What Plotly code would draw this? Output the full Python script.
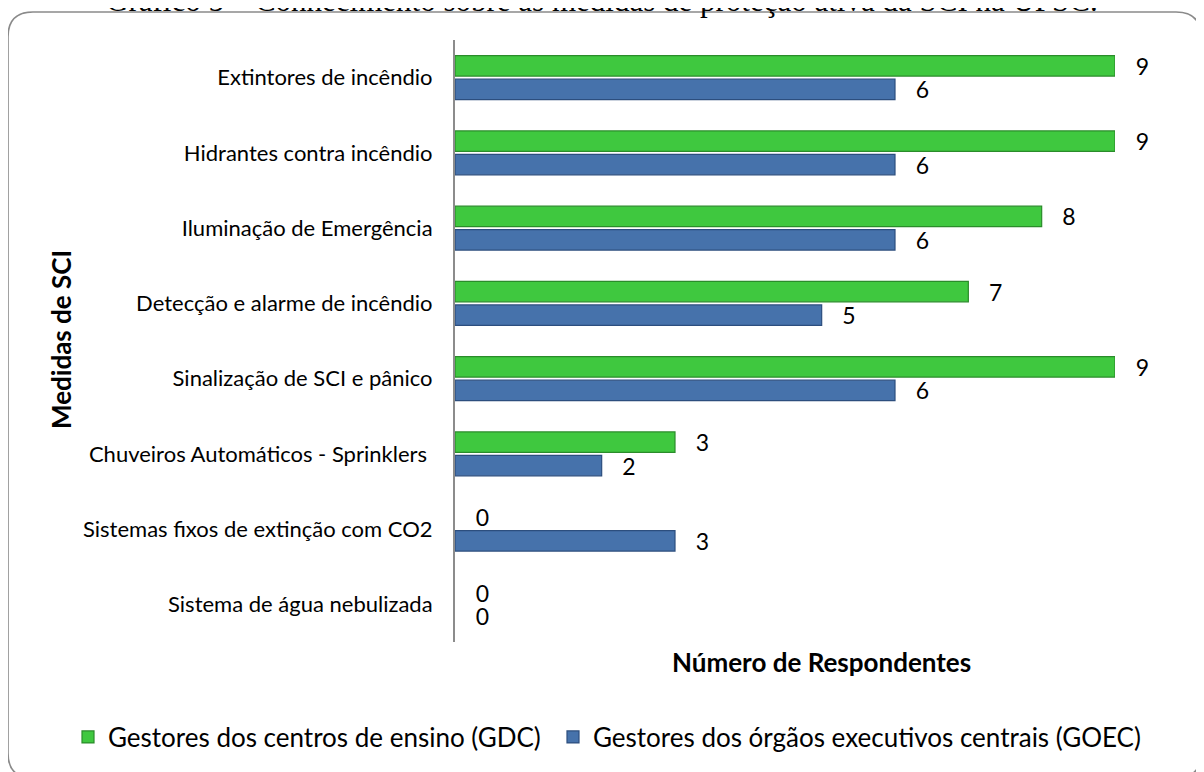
import plotly.graph_objects as go

# ---- data ----
categories = [
    "Extintores de incêndio",
    "Hidrantes contra incêndio",
    "Iluminação de Emergência",
    "Detecção e alarme de incêndio",
    "Sinalização de SCI e pânico",
    "Chuveiros Automáticos - Sprinklers\u00a0",
    "Sistemas fixos de extinção com CO2",
    "Sistema de água nebulizada",
]
gdc_values = [9, 9, 8, 7, 9, 3, 0, 0]
goec_values = [6, 6, 6, 5, 6, 2, 3, 0]
series_names = [
    "Gestores dos centros de ensino (GDC)",
    "Gestores dos órgãos executivos centrais (GOEC)",
]
title_text = "Gráfico 5 – Conhecimento sobre as medidas de proteção ativa da SCI na UFSC."
x_title = "Número de Respondentes"
y_title = "Medidas de SCI"

# ---- layout geometry ----
# the page body has an 8px default margin, so figure px = screen px - 8
OFF = 8
W, H = 1204 - OFF, 772 - OFF

def s(v):
    return v - OFF

L, R, T, B = s(455), s(1115), s(40), s(642)

def px(x):
    return (s(x) - L) / (R - L)

def py(y):
    return (B - s(y)) / (B - T)

FONT = "Lato, 'Open Sans', sans-serif"
NB = "\u00a0\u00a0\u00a0"

def line_colors(values, col):
    return [col if v > 0 else "rgba(0,0,0,0)" for v in values]

fig = go.Figure()
fig.add_trace(go.Bar(
    y=categories, x=gdc_values, name=series_names[0], orientation="h",
    marker=dict(color="#3fc83f",
                line=dict(color=line_colors(gdc_values, "#2a8c2a"), width=1.2)),
    text=[NB + str(v) for v in gdc_values], textposition="outside",
    textfont=dict(family=FONT, size=23, color="#000000"),
    constraintext="none", cliponaxis=False, legend="legend",
))
fig.add_trace(go.Bar(
    y=categories, x=goec_values, name=series_names[1], orientation="h",
    marker=dict(color="#4672ab",
                line=dict(color=line_colors(goec_values, "#2c4e7e"), width=1.2)),
    text=[NB + str(v) for v in goec_values], textposition="outside",
    textfont=dict(family=FONT, size=23, color="#000000"),
    constraintext="none", cliponaxis=False, legend="legend2",
))

# rounded border path (screen px)
bl, bt, br, bb, r = 8, 12, 1201, 778, 25
path = (
    f"M {px(bl + r)},{py(bt)} L {px(br - r)},{py(bt)} "
    f"Q {px(br)},{py(bt)} {px(br)},{py(bt + r)} "
    f"L {px(br)},{py(bb - r)} Q {px(br)},{py(bb)} {px(br - r)},{py(bb)} "
    f"L {px(bl + r)},{py(bb)} Q {px(bl)},{py(bb)} {px(bl)},{py(bb - r)} "
    f"L {px(bl)},{py(bt + r)} Q {px(bl)},{py(bt)} {px(bl + r)},{py(bt)} Z"
)

legend_common = dict(
    orientation="h", xref="container", yref="container",
    xanchor="left", yanchor="middle",
    font=dict(family=FONT, size=26, color="#000000"),
    itemwidth=30, bgcolor="rgba(0,0,0,0)",
)

fig.update_layout(
    width=W, height=H,
    margin=dict(l=L, r=W - R, t=T, b=H - B, autoexpand=False),
    paper_bgcolor="white", plot_bgcolor="white",
    barmode="group", bargap=0.376, bargroupgap=0.13,
    showlegend=True,
    legend=dict(legend_common, x=s(68) / W, y=1 - s(737) / H),
    legend2=dict(legend_common, x=s(553) / W, y=1 - s(737) / H),
    xaxis=dict(
        range=[0, 9], showgrid=False, zeroline=False, showticklabels=False,
        ticks="", showline=False, fixedrange=True,
    ),
    yaxis=dict(
        autorange="reversed", showgrid=False, zeroline=False,
        showline=True, linecolor="#8c8c8c", linewidth=2,
        ticks="", ticklabelstandoff=16,
        tickfont=dict(family=FONT, size=22, color="#000000"),
    ),
    shapes=[dict(
        type="path", path=path, xref="paper", yref="paper",
        line=dict(color="#8a8a8a", width=1.6), fillcolor="rgba(0,0,0,0)",
        layer="below",
    )],
    annotations=[
        dict(text=title_text, xref="paper", yref="paper",
             x=px(602), y=py(0), xanchor="center", yanchor="middle",
             showarrow=False,
             font=dict(family="'Liberation Serif', 'Times New Roman', serif", size=31, color="#000000")),
        dict(text="<b>" + x_title + "</b>", xref="paper", yref="paper",
             x=px(821), y=py(662), xanchor="center", yanchor="middle",
             showarrow=False, font=dict(family=FONT, size=26, color="#000000")),
        dict(text="<b>" + y_title + "</b>", xref="paper", yref="paper",
             x=px(61), y=py(340), xanchor="center", yanchor="middle",
             textangle=-90, showarrow=False,
             font=dict(family=FONT, size=26, color="#000000")),
    ],
)

fig.write_html("out.html")
